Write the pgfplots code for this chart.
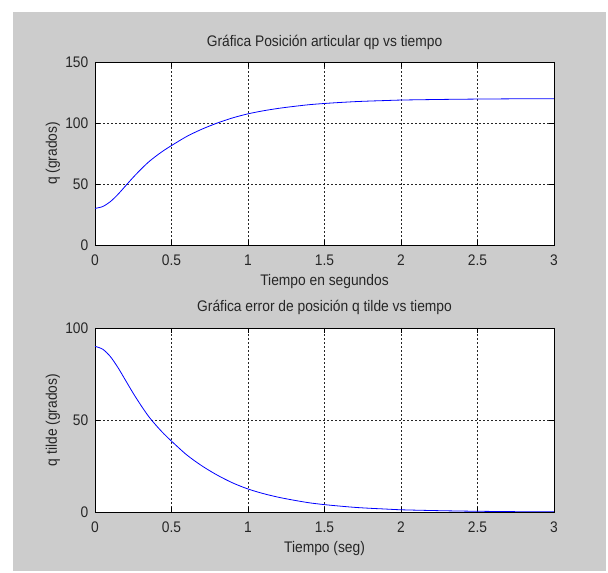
\documentclass[border=0pt]{standalone}
\usepackage{fontspec}
\setmainfont{Liberation Sans}[FakeStretch=0.9]
\usepackage{pgfplots}
\pgfplotsset{compat=1.18}
\definecolor{figgray}{RGB}{204,204,204}
\pgfplotstableread{
t e
0.00 90.0
0.05 88.5
0.10 84.5
0.15 78.5
0.20 71.5
0.25 64.5
0.30 58.0
0.35 52.0
0.40 47.0
0.45 42.5
0.50 38.5
0.60 31.0
0.70 25.0
0.80 20.0
0.90 15.8
1.00 12.5
1.10 10.0
1.20 8.0
1.30 6.4
1.40 5.0
1.50 4.0
1.60 3.2
1.70 2.5
1.80 2.0
1.90 1.6
2.00 1.2
2.20 0.8
2.40 0.5
2.60 0.3
2.80 0.15
3.00 0.1
}\errtab
\pgfplotstableread{
t q
0.00 30.0
0.05 31.5
0.10 35.5
0.15 41.5
0.20 48.5
0.25 55.5
0.30 62.0
0.35 68.0
0.40 73.0
0.45 77.5
0.50 81.5
0.60 89.0
0.70 95.0
0.80 100.0
0.90 104.2
1.00 107.5
1.10 110.0
1.20 112.0
1.30 113.6
1.40 115.0
1.50 116.0
1.60 116.8
1.70 117.5
1.80 118.0
1.90 118.4
2.00 118.8
2.20 119.2
2.40 119.5
2.60 119.7
2.80 119.85
3.00 119.9
}\postab
\pgfplotsset{
  every axis title shift=0pt,
  matfig/.style={
    scale only axis, width=344.25pt,
    xmin=0, xmax=3, xtick={0,0.5,1,1.5,2,2.5,3},
    xticklabels={0,0.5,1,1.5,2,2.5,3},
    grid=major,
    major grid style={black!85, dash pattern=on 1.5pt off 1.5pt, line width=0.45pt},
    axis background/.style={fill=white},
    axis line style={black, line width=0.6pt},
    tick style={black, line width=0.6pt},
    major tick length=3.5pt,
    tick align=inside,
    font=\fontsize{11.5}{13}\selectfont,
    tick label style={font=\fontsize{11.5}{13}\selectfont, text=black!85},
    label style={font=\fontsize{11.5}{13}\selectfont, text=black!85},
    title style={font=\fontsize{11.5}{13}\selectfont, text=black!85},
    /pgf/number format/assume math mode=true,
    xticklabel style={yshift=-3.5pt},
    yticklabel style={xshift=-1pt},
  }
}
\begin{document}
\fontsize{11.5pt}{13pt}\selectfont
\begin{tikzpicture}
\useasboundingbox (0pt,0pt) rectangle (456pt,429.75pt);
\fill[white] (0pt,0pt) rectangle (456pt,429.75pt);
\fill[figgray] (9.75pt,1.5pt) rectangle (454.5pt,420.75pt);
\begin{axis}[matfig,
  at={(71.25pt,246pt)}, anchor=south west, height=137.25pt,
  ymin=0, ymax=150, ytick={0,50,100,150},
  title={Gráfica Posición articular qp vs tiempo},
  title style={at={(axis description cs:0.5,1.109)}, anchor=center},
  xlabel={Tiempo en segundos},
  xlabel style={at={(axis description cs:0.5,-0.202)}, anchor=center},
  ylabel={q (grados)},
  ylabel style={at={(axis description cs:-0.0915,0.5)}, anchor=center},
]
\addplot[blue, line width=0.6pt, smooth, no marks] table[x=t,y=q] {\postab};
\end{axis}
\begin{axis}[matfig,
  at={(71.25pt,45.75pt)}, anchor=south west, height=138pt,
  ymin=0, ymax=100, ytick={0,50,100},
  title={Gráfica error de posición q tilde vs tiempo},
  title style={at={(axis description cs:0.5,1.114)}, anchor=center},
  xlabel={Tiempo (seg)},
  xlabel style={at={(axis description cs:0.5,-0.201)}, anchor=center},
  ylabel={q tilde (grados)},
  ylabel style={at={(axis description cs:-0.0915,0.5)}, anchor=center},
]
\addplot[blue, line width=0.6pt, smooth, no marks] table[x=t,y=e] {\errtab};
\end{axis}
\end{tikzpicture}
\end{document}
